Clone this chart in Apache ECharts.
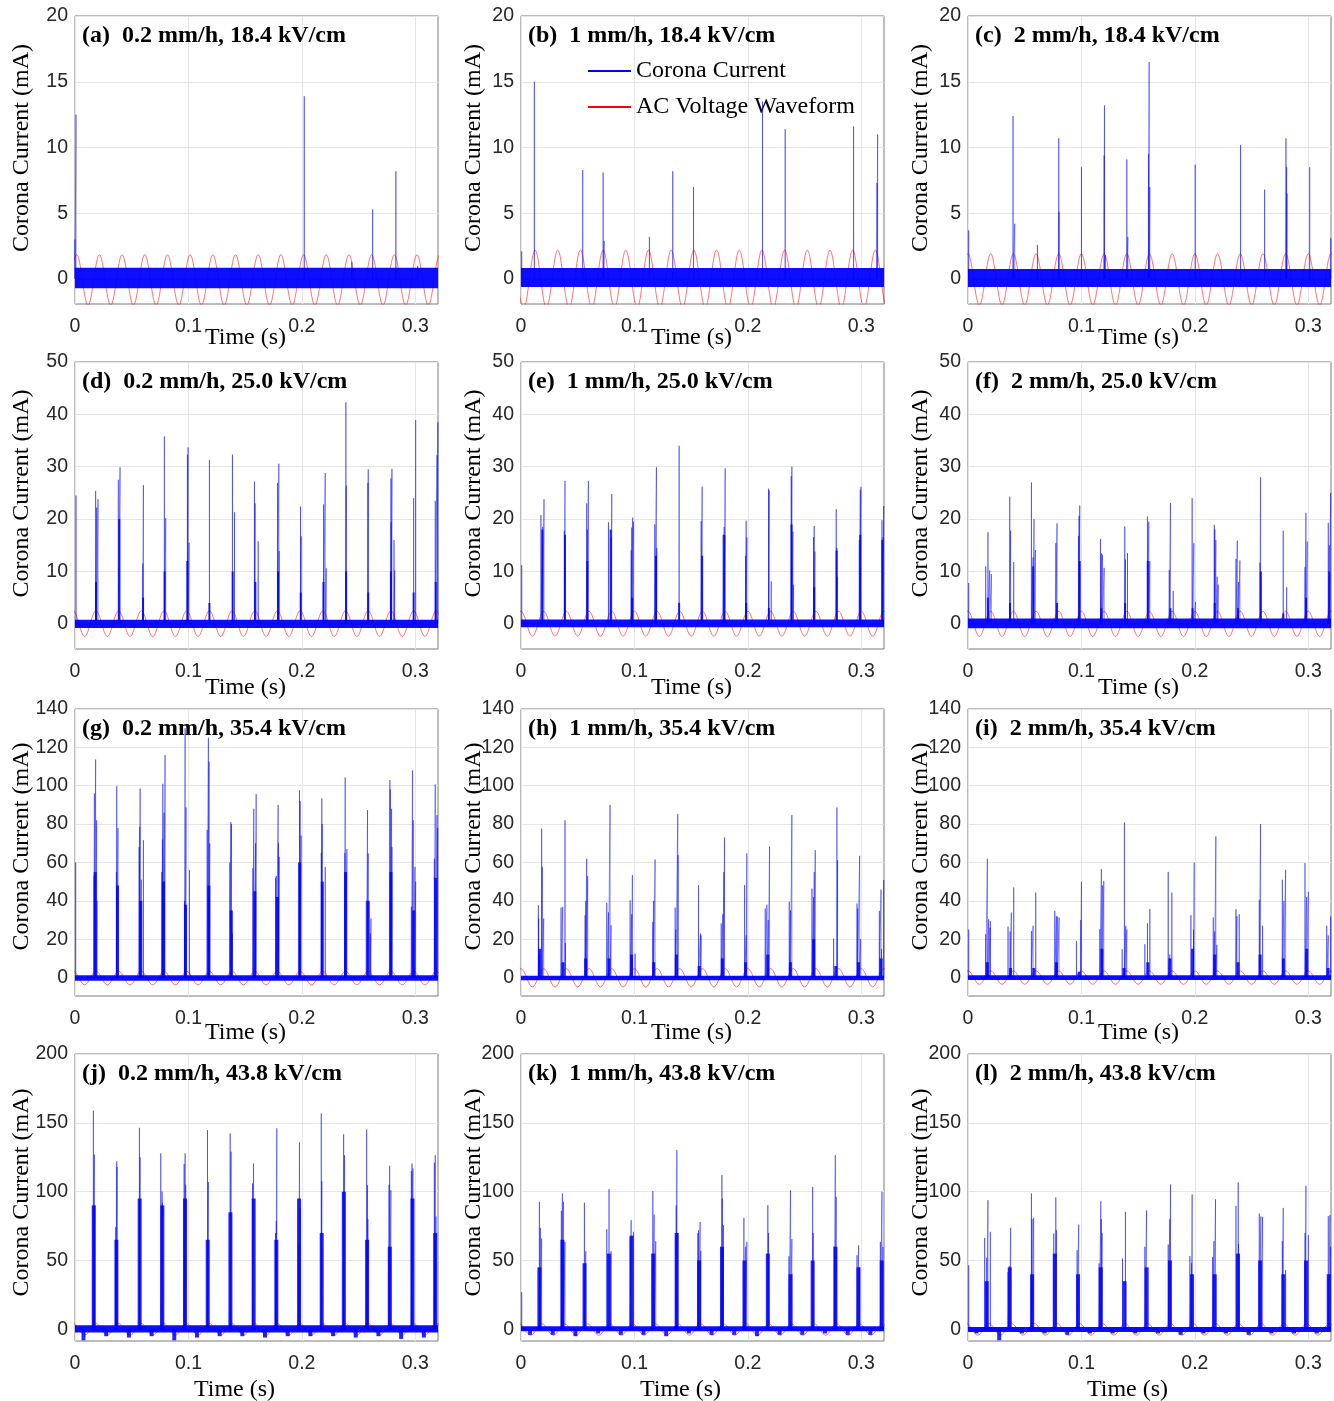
<!DOCTYPE html>
<html>
<head>
<meta charset="utf-8">
<script src="https://cdn.jsdelivr.net/npm/echarts@6.0.0/dist/echarts.min.js"></script>
<style>
  html, body { margin: 0; padding: 0; background: #fff; }
  #chart { width: 1334px; height: 1401px; }
</style>
</head>
<body>
<div id="chart"></div>
<script>
// ---- labels / ticks ----
const letters = ['a', 'b', 'c', 'd', 'e', 'f', 'g', 'h', 'i', 'j', 'k', 'l'];
const rainRates = ['0.2 mm/h', '1 mm/h', '2 mm/h'];
const fieldLevels = ['18.4 kV/cm', '25.0 kV/cm', '35.4 kV/cm', '43.8 kV/cm'];
const timeTicks = [0, 0.1, 0.2, 0.3];
const timeMax = 0.32;
const currentTicks = [
  [0, 5, 10, 15, 20],
  [0, 10, 20, 30, 40, 50],
  [0, 20, 40, 60, 80, 100, 120, 140],
  [0, 50, 100, 150, 200],
];
const currentMin = [-1.9, -4.8, -9.6, -8.5];
const currentMax = [20, 50, 140, 200];

// ---- AC voltage waveform: peak / trough times (s) ----
const acPeaksA = [0.0015, 0.0215, 0.0415, 0.0615, 0.0815, 0.1015, 0.1215, 0.1415, 0.1615, 0.1815, 0.2015, 0.2215, 0.2415, 0.2615, 0.2815, 0.3015, 0.3215];
const acTroughsA = [-0.0085, 0.0115, 0.0315, 0.0515, 0.0715, 0.0915, 0.1115, 0.1315, 0.1515, 0.1715, 0.1915, 0.2115, 0.2315, 0.2515, 0.2715, 0.2915, 0.3115, 0.3315];
const acPeaksB = [-0.0076, 0.0124, 0.0324, 0.0524, 0.0724, 0.0924, 0.1124, 0.1324, 0.1524, 0.1724, 0.1924, 0.2124, 0.2324, 0.2524, 0.2724, 0.2924, 0.3124, 0.3324];
const acTroughsB = [0.0024, 0.0224, 0.0424, 0.0624, 0.0824, 0.1024, 0.1224, 0.1424, 0.1624, 0.1824, 0.2024, 0.2224, 0.2424, 0.2624, 0.2824, 0.3024, 0.3224];
const acPeaks0 = [0, 0.02, 0.04, 0.06, 0.08, 0.10, 0.12, 0.14, 0.16, 0.18, 0.20, 0.22, 0.24, 0.26, 0.28, 0.30, 0.32];
const acTroughs0 = [-0.01, 0.01, 0.03, 0.05, 0.07, 0.09, 0.11, 0.13, 0.15, 0.17, 0.19, 0.21, 0.23, 0.25, 0.27, 0.29, 0.31, 0.33];
const acPeaksM = [-0.0015, 0.0185, 0.0385, 0.0585, 0.0785, 0.0985, 0.1185, 0.1385, 0.1585, 0.1785, 0.1985, 0.2185, 0.2385, 0.2585, 0.2785, 0.2985, 0.3185, 0.3385];
const acTroughsM = [-0.0115, 0.0085, 0.0285, 0.0485, 0.0685, 0.0885, 0.1085, 0.1285, 0.1485, 0.1685, 0.1885, 0.2085, 0.2285, 0.2485, 0.2685, 0.2885, 0.3085, 0.3285];
// waveform level (mA scale) per panel a..l
const acHi = [1.85, 2.2, 1.92, 2.5, 2.4, 2.4, 3.3, 4.7, 3.5, 4.2, 4.0, 4.2];
const acLo = [-2.0, -2.2, -2.0, -2.4, -2.35, -2.4, -3.8, -4.9, -3.5, -4.3, -4.3, -4.3];

// ---- baseline noise band (mA) per panel ----
const noiseHi = [0.85, 0.84, 0.76, 0.8, 0.83, 1.0, 1.2, 1.0, 1.2, 2.9, 2.2, 1.7];
const noiseLo = [-0.7, -0.6, -0.6, -0.8, -0.64, -0.83, -1.7, -1.4, -1.2, -2.4, -1.5, -1.9];

// ---- corona current pulses [time s, peak mA] ----
const spikesA = [[0.0, 3.0], [0.0009, 12.5], [0.2021, 13.9], [0.244, 1.3], [0.2624, 5.3], [0.2829, 8.2], [0.302, 1.0]];
const spikesB = [[0.0006, 2.1], [0.0118, 15.0], [0.0544, 8.3], [0.0724, 8.1], [0.0733, 2.9], [0.1132, 3.2], [0.1338, 8.2],
  [0.1521, 7.0], [0.2129, 13.5], [0.2329, 11.4], [0.2932, 11.6], [0.3138, 7.3], [0.3144, 11.0]];
const spikesC = [[0.0006, 3.7], [0.0397, 12.4], [0.0412, 4.2], [0.0612, 2.6], [0.0800, 10.7], [0.0803, 5.1], [0.1000, 8.5],
  [0.1200, 9.4], [0.1203, 13.2], [0.1212, 1.8], [0.1400, 9.1], [0.1409, 3.2], [0.1591, 9.5], [0.1597, 16.5], [0.1603, 7.0],
  [0.2003, 8.7], [0.2403, 10.2], [0.2615, 6.8], [0.2803, 10.7], [0.2809, 8.5], [0.2812, 6.5], [0.3012, 8.5], [0.3198, 3.1]];
const spikesD = [[0.0009, 24.5], [0.0182, 25.4], [0.0191, 22.2], [0.0203, 23.8], [0.0382, 27.5], [0.0397, 29.9], [0.0597, 11.5],
  [0.0603, 26.5], [0.0788, 35.8], [0.0800, 20.2], [0.0991, 32.3], [0.0997, 33.7], [0.1006, 15.5], [0.1185, 31.3], [0.1388, 32.3],
  [0.1406, 21.3], [0.1582, 27.2], [0.1588, 23.0], [0.1615, 15.8], [0.1785, 26.9], [0.1797, 30.6], [0.1800, 13.9], [0.1988, 22.4],
  [0.1994, 16.7], [0.2191, 22.8], [0.2206, 28.8], [0.2215, 10.6], [0.2388, 42.3], [0.2391, 26.4], [0.2582, 26.9], [0.2585, 29.5],
  [0.2785, 27.8], [0.2786, 19.4], [0.2794, 29.6], [0.2812, 16.0], [0.2818, 10.2], [0.2985, 24.0], [0.3003, 38.9], [0.3176, 23.5],
  [0.3191, 32.2], [0.3199, 38.5]];
const spikesE = [[0.0006, 11.2], [0.0176, 20.8], [0.0191, 18.5], [0.0203, 23.8], [0.0382, 17.8], [0.0388, 27.3], [0.0579, 23.0],
  [0.0585, 18.0], [0.0594, 27.3], [0.0771, 19.4], [0.0794, 16.5], [0.0800, 24.8], [0.0971, 14.0], [0.0976, 18.4], [0.0985, 20.3],
  [0.0991, 19.5], [0.1179, 19.0], [0.1194, 29.9], [0.1197, 14.5], [0.1394, 34.0], [0.1588, 19.6], [0.1597, 26.2], [0.1782, 17.0],
  [0.1791, 18.5], [0.1800, 29.7], [0.1979, 13.0], [0.1985, 19.7], [0.1991, 16.5], [0.2182, 25.8], [0.2188, 25.5], [0.2206, 8.1],
  [0.2382, 28.2], [0.2388, 30.0], [0.2397, 17.6], [0.2403, 7.5], [0.2579, 16.6], [0.2585, 18.7], [0.2591, 13.8], [0.2779, 21.9],
  [0.2785, 14.5], [0.2788, 9.0], [0.2982, 16.0], [0.2991, 25.6], [0.2997, 26.2], [0.3182, 19.8], [0.3191, 16.5], [0.3197, 22.5]];
const spikesF = [[0.0006, 7.8], [0.0156, 11.0], [0.0176, 17.5], [0.0191, 10.2], [0.0206, 9.5], [0.0368, 24.3], [0.0376, 17.8],
  [0.0403, 11.8], [0.0559, 27.0], [0.0574, 12.7], [0.0582, 20.0], [0.0594, 14.1], [0.0774, 15.4], [0.0785, 19.2], [0.0974, 16.8],
  [0.0979, 20.6], [0.0985, 22.6], [0.1168, 16.2], [0.1176, 13.5], [0.1185, 13.2], [0.1200, 10.7], [0.1382, 18.6], [0.1388, 12.3],
  [0.1406, 13.5], [0.1582, 20.5], [0.1594, 19.5], [0.1603, 12.0], [0.1774, 10.3], [0.1785, 23.1], [0.1809, 6.3], [0.1976, 24.0],
  [0.1991, 15.4], [0.2006, 4.2], [0.2171, 18.9], [0.2176, 18.0], [0.2185, 16.0], [0.2197, 9.0], [0.2206, 7.5], [0.2362, 12.4],
  [0.2374, 15.9], [0.2385, 8.0], [0.2397, 12.1], [0.2574, 11.7], [0.2579, 28.0], [0.2779, 17.8], [0.2809, 7.0], [0.2971, 10.8],
  [0.2979, 21.2], [0.2991, 15.7], [0.3176, 19.3], [0.3185, 15.0], [0.3197, 25.0]];
const spikesG = [[0.0006, 60], [0.0168, 53], [0.0171, 96], [0.0182, 113.7], [0.0191, 82], [0.0194, 40], [0.0365, 55], [0.0368, 99.8],
  [0.0379, 78], [0.0565, 68], [0.0571, 78.6], [0.0574, 98.6], [0.0585, 51], [0.0603, 71.6], [0.0765, 55], [0.0771, 72], [0.0774, 101],
  [0.0785, 86], [0.0794, 116], [0.0965, 40], [0.0971, 130], [0.0979, 88.7], [0.1009, 56], [0.1165, 77], [0.1176, 125], [0.1182, 112.5],
  [0.1188, 70], [0.1365, 60], [0.1374, 81], [0.1379, 80], [0.1388, 23], [0.1568, 57], [0.1576, 88], [0.1591, 70], [0.1597, 95.6],
  [0.1768, 52], [0.1774, 53], [0.1791, 90], [0.1794, 70], [0.1800, 63], [0.1979, 97.7], [0.1985, 92], [0.1994, 74], [0.2171, 65],
  [0.2176, 93.4], [0.2179, 80], [0.2206, 57.7], [0.2379, 65], [0.2382, 104.3], [0.2397, 67], [0.2568, 40], [0.2579, 87.3],
  [0.2585, 64.7], [0.2603, 23], [0.2609, 30.8], [0.2776, 103], [0.2779, 98], [0.2791, 88], [0.2794, 68], [0.2965, 37], [0.2976, 108],
  [0.2982, 82], [0.2997, 57.7], [0.3003, 50], [0.3168, 62], [0.3176, 100.7], [0.3191, 84.7], [0.3197, 78]];
const spikesH = [[0.0153, 37.7], [0.0156, 30.8], [0.0162, 12], [0.0182, 77.7], [0.0188, 57.7], [0.0200, 30.8], [0.0353, 36.5],
  [0.0368, 36.9], [0.0388, 82], [0.0391, 18], [0.0565, 32.5], [0.0571, 40], [0.0579, 62], [0.0588, 52.9], [0.0756, 39], [0.0771, 34],
  [0.0785, 90], [0.0794, 27.3], [0.0962, 40.3], [0.0976, 33], [0.0982, 53.4], [0.1006, 12.5], [0.1162, 29], [0.1168, 40], [0.1182, 61.6],
  [0.1359, 36.5], [0.1365, 25], [0.1382, 85.2], [0.1385, 63.8], [0.1565, 48.2], [0.1582, 23], [0.1588, 22], [0.1765, 28.2], [0.1779, 33],
  [0.1788, 55], [0.1794, 73], [0.1971, 48.2], [0.1985, 22], [0.1991, 64.7], [0.2153, 36], [0.2168, 38], [0.2179, 30], [0.2191, 68.2],
  [0.2365, 39.5], [0.2376, 35], [0.2388, 84.7], [0.2565, 46.4], [0.2579, 42], [0.2585, 55], [0.2594, 66.4], [0.2756, 20.3], [0.2785, 88.7],
  [0.2791, 61.2], [0.2962, 38.6], [0.2968, 36], [0.2985, 63.5], [0.2994, 20], [0.3159, 34.8], [0.3174, 45.9], [0.3179, 15], [0.3197, 50.8]];
const spikesI = [[0.0006, 25], [0.0156, 22.6], [0.0171, 62], [0.0182, 30.4], [0.0194, 26], [0.0197, 29.5], [0.0353, 26.6], [0.0371, 24],
  [0.0382, 33.9], [0.0403, 47], [0.0559, 24.3], [0.0574, 27], [0.0597, 44.3], [0.0765, 34.8], [0.0779, 32], [0.0788, 31.8], [0.0803, 31.3],
  [0.0956, 19.1], [0.0994, 30], [0.1000, 50], [0.1162, 25.2], [0.1176, 56.5], [0.1185, 48], [0.1197, 50.4], [0.1359, 14.8], [0.1379, 80.9],
  [0.1391, 27], [0.1400, 25], [0.1559, 17.4], [0.1582, 28.3], [0.1603, 35.7], [0.1765, 55.1], [0.1779, 12], [0.1797, 44.3], [0.1965, 32.5],
  [0.1988, 25], [0.1994, 60], [0.2162, 31.3], [0.2174, 24], [0.2185, 73.6], [0.2194, 17], [0.2362, 35.7], [0.2371, 32], [0.2391, 33],
  [0.2568, 40.5], [0.2579, 80], [0.2597, 27], [0.2771, 51], [0.2785, 40], [0.2800, 56.2], [0.2971, 59.7], [0.2985, 42], [0.3000, 44.7],
  [0.3162, 27], [0.3176, 22], [0.3197, 31.8]];
const spikesJ = [[0.0162, 158.8], [0.0171, 127], [0.0174, 90], [0.0359, 74.4], [0.0368, 122], [0.0371, 118], [0.0568, 146.4],
  [0.0574, 125], [0.0756, 127.8], [0.0768, 100], [0.0771, 92], [0.0962, 120], [0.0971, 127.8], [0.0976, 105], [0.1168, 144.7],
  [0.1176, 107], [0.1368, 142.3], [0.1376, 129], [0.1565, 106], [0.1574, 120.5], [0.1768, 70], [0.1774, 78.8], [0.1779, 146],
  [0.1974, 62], [0.1979, 135.8], [0.1985, 88], [0.2171, 156.8], [0.2176, 107.6], [0.2368, 141.6], [0.2376, 126.5], [0.2571, 145.2],
  [0.2579, 104.7], [0.2582, 80], [0.2768, 105], [0.2774, 118.8], [0.2785, 101], [0.2965, 115], [0.2971, 120.5], [0.2979, 116.8],
  [0.3168, 121], [0.3176, 126.5], [0.3182, 82]];
const spikesK = [[0.0006, 27], [0.0162, 92.6], [0.0171, 73.7], [0.0182, 66], [0.0356, 86], [0.0365, 98.7], [0.0374, 92.6], [0.0388, 63.5],
  [0.0559, 92], [0.0571, 56.7], [0.0756, 72.7], [0.0776, 101.8], [0.0794, 56.7], [0.0962, 67], [0.0971, 79.3], [0.0991, 70.8],
  [0.1162, 100.4], [0.1174, 83.4], [0.1188, 64], [0.1368, 90], [0.1374, 130.2], [0.1382, 70], [0.1559, 70], [0.1565, 72], [0.1579, 78],
  [0.1585, 57], [0.1771, 112], [0.1774, 95], [0.1785, 75.6], [0.1965, 81], [0.1979, 60], [0.1991, 63.5], [0.2176, 90.2], [0.2182, 70],
  [0.2362, 53], [0.2376, 101], [0.2388, 65.5], [0.2571, 103.5], [0.2576, 70], [0.2762, 60], [0.2771, 126.5], [0.2779, 96.2],
  [0.2962, 53.8], [0.2976, 61], [0.2985, 45], [0.3168, 63.5], [0.3182, 99.9], [0.3191, 60]];
const spikesL = [[0.0006, 46.5], [0.0147, 66.4], [0.0165, 52], [0.0176, 93.8], [0.0197, 70.8], [0.0353, 41.7], [0.0365, 46], [0.0376, 73.7],
  [0.0559, 98.7], [0.0565, 80], [0.0579, 81], [0.0756, 69.6], [0.0774, 95.8], [0.0779, 72], [0.0962, 57.5], [0.0976, 76.1], [0.1156, 47.8],
  [0.1171, 93], [0.1176, 80], [0.1182, 70], [0.1362, 51.4], [0.1388, 85.3], [0.1559, 60], [0.1574, 86.3], [0.1765, 61.6], [0.1779, 80],
  [0.1785, 105.2], [0.1956, 53.3], [0.1971, 48], [0.1976, 98], [0.2156, 52.6], [0.2168, 64], [0.2182, 94.5], [0.2362, 89.7],
  [0.2382, 106.7], [0.2385, 62], [0.2568, 84.1], [0.2582, 82], [0.2597, 81.7], [0.2771, 64], [0.2779, 88.2], [0.2800, 43], [0.2971, 70],
  [0.2979, 104.2], [0.3000, 68.4], [0.3176, 82.2], [0.3191, 83], [0.3197, 60]];

// ---- dense burst bodies (and negative dips) [time s, mA] ----
const coresD = [[0.0185, 8], [0.039, 20], [0.06, 5], [0.079, 10], [0.099, 12], [0.1185, 4], [0.139, 10], [0.159, 8], [0.179, 10],
  [0.199, 6], [0.219, 8], [0.239, 10], [0.2585, 6], [0.2785, 10], [0.2985, 6], [0.318, 8]];
const coresE = [[0.0188, 18], [0.0388, 17], [0.0585, 12], [0.079, 18], [0.098, 5], [0.119, 13], [0.1394, 4], [0.1597, 13], [0.1792, 17],
  [0.1985, 4], [0.2185, 3], [0.2385, 19], [0.2585, 7], [0.2782, 14], [0.2991, 17], [0.3185, 16]];
const coresF = [[0.0175, 5], [0.037, 4], [0.0575, 11], [0.0785, 4], [0.0985, 12], [0.1175, 3], [0.1385, 4], [0.1585, 12], [0.1785, 3],
  [0.198, 3], [0.2175, 4], [0.238, 3], [0.2582, 10], [0.278, 2], [0.298, 5], [0.3185, 10]];
const coresG = [[0.0178, 55], [0.0375, 48], [0.058, 40], [0.078, 50], [0.0975, 38], [0.118, 48], [0.1378, 35], [0.1585, 45], [0.1785, 42],
  [0.198, 60], [0.218, 50], [0.2385, 55], [0.2585, 40], [0.2785, 55], [0.2985, 35], [0.318, 52]];
const coresH = [[0.0165, 15], [0.037, 8], [0.057, 10], [0.0775, 10], [0.0975, 12], [0.117, 8], [0.137, 12], [0.157, 6], [0.1775, 10],
  [0.198, 8], [0.2175, 12], [0.2375, 8], [0.258, 20], [0.2775, 6], [0.2975, 8], [0.3175, 10]];
const coresI = [[0.017, 8], [0.0375, 5], [0.058, 5], [0.078, 8], [0.098, 3], [0.118, 15], [0.1375, 5], [0.1585, 8], [0.178, 10],
  [0.198, 15], [0.2175, 12], [0.238, 8], [0.2575, 12], [0.278, 10], [0.2985, 15], [0.3175, 5]];
const coresJ = [[0.0165, 90], [0.0365, 65], [0.057, 95], [0.077, 90], [0.097, 95], [0.117, 65], [0.137, 85], [0.1575, 95], [0.1775, 65],
  [0.1975, 95], [0.2175, 70], [0.237, 100], [0.2575, 65], [0.2775, 60], [0.2975, 95], [0.3175, 70],
  [0.0075, -8], [0.0275, -5], [0.0475, -6], [0.0675, -5], [0.0875, -8], [0.1075, -6], [0.1275, -5], [0.1475, -5], [0.1675, -6],
  [0.1875, -5], [0.2075, -5], [0.2275, -5], [0.2475, -6], [0.2675, -5], [0.2875, -7], [0.3075, -6]];
const coresK = [[0.0162, 45], [0.0365, 65], [0.056, 48], [0.0775, 55], [0.0975, 68], [0.1165, 55], [0.1372, 70], [0.157, 50], [0.1772, 60],
  [0.197, 50], [0.2176, 55], [0.2376, 40], [0.2571, 50], [0.2772, 60], [0.2975, 45], [0.318, 50],
  [0.008, -4], [0.028, -4], [0.048, -5], [0.068, -3], [0.088, -4], [0.108, -4], [0.128, -5], [0.148, -3], [0.168, -4], [0.188, -4],
  [0.208, -5], [0.228, -4], [0.248, -4], [0.268, -3], [0.288, -4], [0.308, -4]];
const coresL = [[0.0165, 35], [0.0368, 45], [0.0565, 40], [0.0765, 55], [0.097, 40], [0.117, 45], [0.138, 35], [0.1575, 45], [0.178, 50],
  [0.1975, 40], [0.2175, 40], [0.238, 55], [0.2575, 50], [0.278, 40], [0.298, 50], [0.318, 40],
  [0.0075, -3], [0.0275, -8], [0.0475, -3], [0.0675, -3], [0.0875, -4], [0.1075, -3], [0.1275, -3], [0.1475, -3], [0.1675, -3],
  [0.1875, -4], [0.2075, -3], [0.2275, -3], [0.2475, -4], [0.2675, -3], [0.2875, -3], [0.3075, -3]];

const spikeSets = [spikesA, spikesB, spikesC, spikesD, spikesE, spikesF, spikesG, spikesH, spikesI, spikesJ, spikesK, spikesL];
const coreSets = [[], [], [], coresD, coresE, coresF, coresG, coresH, coresI, coresJ, coresK, coresL];
const acSets = [
  [acPeaksA, acTroughsA], [acPeaksB, acTroughsB], [acPeaks0, acTroughs0],
  [acPeaksM, acTroughsM], [acPeaks0, acTroughs0], [acPeaks0, acTroughs0],
  [acPeaksM, acTroughsM], [acPeaks0, acTroughs0], [acPeaks0, acTroughs0],
  [acPeaksM, acTroughsM], [acPeaksM, acTroughsM], [acPeaksM, acTroughsM],
];

// ---- layout ----
const colLeft = [75, 521, 968];
const plotW = 363;
const rowTop = [16, 362, 709, 1054];
const rowBottom = [304, 649, 996, 1341];
const yNameGap = [41, 35, 35];
const yNameShift = [12, 12, 6, 5];
const xNameGap = [22, 27, 25, 37];
const xNameShift = [11, 11, 11, 22];
const coreWidth = [1, 2, 3, 4];

const serif = 'Liberation Serif, Times New Roman, serif';
const sans = 'Liberation Sans, Arial, Helvetica, sans-serif';

const grids = [], xAxes = [], yAxes = [], titles = [], series = [];

letters.forEach((letter, i) => {
  const r = Math.floor(i / 3), c = i % 3;
  grids.push({
    left: colLeft[c], top: rowTop[r], width: plotW, height: rowBottom[r] - rowTop[r],
    show: true, borderColor: '#7a7a7a', borderWidth: 1, backgroundColor: '#fff',
    containLabel: false, outerBoundsMode: 'none',
  });
  xAxes.push({
    type: 'value', gridIndex: i, min: 0, max: timeMax,
    axisLine: { show: false },
    axisTick: { show: false, customValues: timeTicks },
    axisLabel: { customValues: timeTicks, margin: 13, color: '#262626', fontFamily: sans, fontSize: 19.5 },
    splitLine: { show: true, lineStyle: { color: '#e6e6e6', width: 1 } },
    name: 'Time (s)', nameLocation: 'middle', nameGap: xNameGap[r], nameMoveOverlap: false,
    nameTextStyle: { fontFamily: serif, fontSize: 24, color: '#000', padding: [0, 2 * xNameShift[r], 0, 0] },
  });
  yAxes.push({
    type: 'value', gridIndex: i, min: currentMin[r], max: currentMax[r],
    axisLine: { show: false },
    axisTick: { show: false, customValues: currentTicks[r] },
    axisLabel: { customValues: currentTicks[r], margin: 7, color: '#262626', fontFamily: sans, fontSize: 19.5 },
    splitLine: { show: true, lineStyle: { color: '#e6e6e6', width: 1 } },
    name: 'Corona Current (mA)', nameLocation: 'middle', nameGap: yNameGap[c], nameMoveOverlap: false,
    nameTextStyle: { fontFamily: serif, fontSize: 24, color: '#000', padding: [0, 0, 0, 2 * yNameShift[r]] },
  });
  titles.push({
    text: '(' + letter + ')  ' + rainRates[c] + ', ' + fieldLevels[r],
    left: colLeft[c] + 7, top: rowTop[r] + 8, padding: 0,
    textStyle: { fontFamily: serif, fontWeight: 'bold', fontSize: 24, color: '#000' },
  });

  // AC voltage waveform through its read peaks and troughs
  const [peaks, troughs] = acSets[i];
  const acData = peaks.map(t => [t, acHi[i]]).concat(troughs.map(t => [t, acLo[i]]))
    .sort((a, b) => a[0] - b[0]);
  series.push({
    type: 'line', name: 'AC Voltage Waveform', xAxisIndex: i, yAxisIndex: i,
    data: acData, smooth: 0.36, symbol: 'none', silent: true, z: 1,
    lineStyle: { color: 'rgba(255,0,0,0.55)', width: 1 }, itemStyle: { color: '#ff0000' },
  });

  // dense bodies of the pulse bursts
  if (coreSets[i].length) {
    series.push({
      type: 'bar', name: 'Corona Current', xAxisIndex: i, yAxisIndex: i,
      data: coreSets[i], barWidth: coreWidth[r], silent: true, z: 3,
      itemStyle: { color: 'rgba(0,0,255,0.85)' },
    });
  }

  // individual pulses + baseline noise band
  const pulses = spikeSets[i].slice().sort((a, b) => a[0] - b[0]);
  const pulseData = [];
  pulses.forEach(([t, h]) => { pulseData.push([t, 0], [t, h], [t, 0]); });
  series.push({
    type: 'line', name: 'Corona Current', xAxisIndex: i, yAxisIndex: i,
    data: pulseData, symbol: 'none', silent: true, z: 4,
    lineStyle: { color: 'rgba(0,0,255,0.45)', width: 1 }, itemStyle: { color: '#0000ff' },
    markArea: {
      silent: true, z: 2,
      itemStyle: { color: 'rgba(0,0,255,0.95)' },
      data: [[{ yAxis: noiseLo[i] }, { yAxis: noiseHi[i] }]],
    },
  });
});

const chart = echarts.init(document.getElementById('chart'), null, { renderer: 'canvas' });
chart.setOption({
  animation: false,
  backgroundColor: '#fff',
  title: titles,
  legend: {
    orient: 'vertical', left: 588, top: 59, padding: 0,
    itemWidth: 43, itemHeight: 2, itemGap: 12, selectedMode: false,
    textStyle: { fontFamily: serif, fontSize: 24, color: '#000' },
    data: [
      { name: 'Corona Current', icon: 'rect', itemStyle: { color: '#0000ff', opacity: 1 } },
      { name: 'AC Voltage Waveform', icon: 'rect', itemStyle: { color: '#ff0000', opacity: 1 } },
    ],
  },
  grid: grids,
  xAxis: xAxes,
  yAxis: yAxes,
  series: series,
});
</script>
</body>
</html>
